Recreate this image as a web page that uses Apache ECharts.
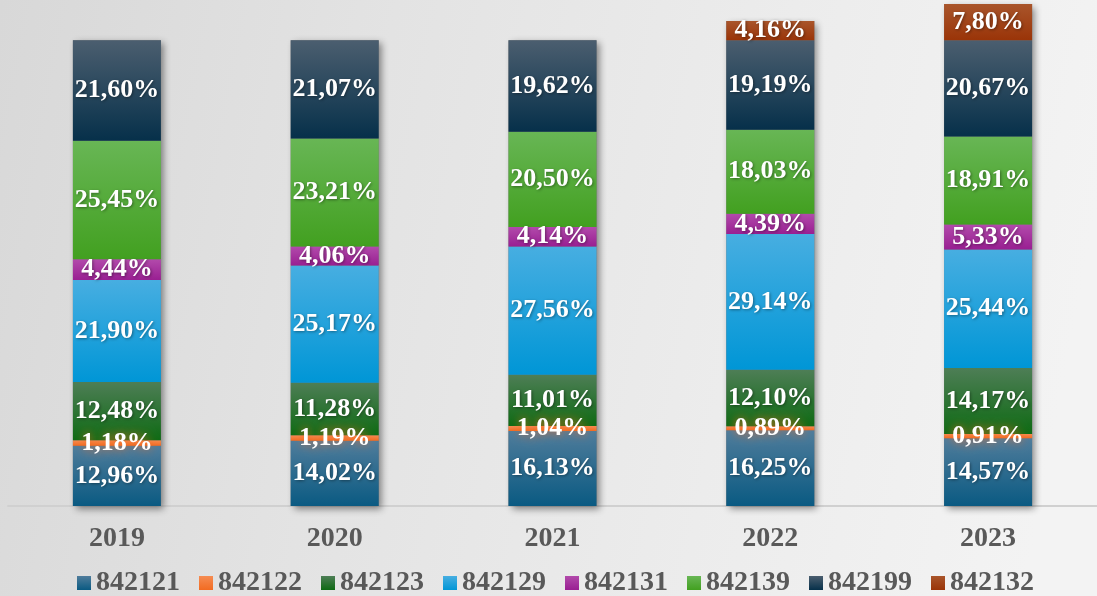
<!DOCTYPE html>
<html>
<head>
<meta charset="utf-8">
<script src="https://cdn.jsdelivr.net/npm/echarts@6/dist/echarts.min.js"></script>
<style>
  html, body { margin: 0; padding: 0; }
  #chart { width: 1097px; height: 596px; }
</style>
</head>
<body>
<div id="chart"></div>
<script>
// years on the x axis
const years = ['2019', '2020', '2021', '2022', '2023'];

// share per product code, bottom to top of each bar
const s842121 = [12.96, 14.02, 16.13, 16.25, 14.57];
const s842122 = [1.18, 1.19, 1.04, 0.89, 0.91];
const s842123 = [12.48, 11.28, 11.01, 12.10, 14.17];
const s842129 = [21.90, 25.17, 27.56, 29.14, 25.44];
const s842131 = [4.44, 4.06, 4.14, 4.39, 5.33];
const s842139 = [25.45, 23.21, 20.50, 18.03, 18.91];
const s842199 = [21.60, 21.07, 19.62, 19.19, 20.67];
const s842132 = [null, null, null, 4.16, 7.80];

const seriesList = [
  { name: '842121', data: s842121, top: '#4f7c9b', bottom: '#0a5a82' },
  { name: '842122', data: s842122, top: '#f58c52', bottom: '#f26b21', glow: true },
  { name: '842123', data: s842123, top: '#4e7e56', bottom: '#0e6a13' },
  { name: '842129', data: s842129, top: '#47aee1', bottom: '#0096d6' },
  { name: '842131', data: s842131, top: '#b24aab', bottom: '#991f92' },
  { name: '842139', data: s842139, top: '#68b655', bottom: '#42a020' },
  { name: '842199', data: s842199, top: '#4b5e6f', bottom: '#06304a' },
  { name: '842132', data: s842132, top: '#a9552b', bottom: '#9a3408' }
];

// bar totals, used only for the drop shadow behind each stack
const totals = years.map((y, i) => seriesList.reduce((a, s) => a + (s.data[i] || 0), 0));

const font = '"Liberation Serif", "DejaVu Serif", serif';

function grad(top, bottom) {
  return new echarts.graphic.LinearGradient(0, 0, 0, 1, [
    { offset: 0, color: top },
    { offset: 1, color: bottom }
  ]);
}

const chart = echarts.init(document.getElementById('chart'));

const series = [{
  name: 'shadow',
  type: 'bar',
  data: totals,
  barWidth: 88,
  barGap: '-100%',
  z: 1,
  silent: true,
  itemStyle: {
    color: '#777',
    shadowColor: 'rgba(0,0,0,0.45)',
    shadowBlur: 7,
    shadowOffsetX: 3,
    shadowOffsetY: 3
  }
}].concat(seriesList.map(s => ({
  name: s.name,
  type: 'bar',
  stack: 'total',
  data: s.data,
  barWidth: 88,
  z: 2,
  itemStyle: { color: grad(s.top, s.bottom) },
  label: {
    show: true,
    position: 'inside',
    color: '#fff',
    fontFamily: font,
    fontWeight: 'bold',
    fontSize: 26,
    textBorderWidth: 0,
    textShadowColor: s.glow ? 'rgba(242,107,33,0.95)' : 'rgba(0,0,0,0.4)',
    textShadowBlur: s.glow ? 10 : 3,
    textShadowOffsetX: s.glow ? 0 : 1,
    textShadowOffsetY: s.glow ? 0 : 1,
    formatter: p => p.value == null ? '' : p.value.toFixed(2).replace('.', ',') + '%'
  }
})));

const option = {
  backgroundColor: new echarts.graphic.LinearGradient(0, 0, 1, 0.35, [
    { offset: 0, color: '#d8d8d8' },
    { offset: 0.35, color: '#e3e3e3' },
    { offset: 0.7, color: '#ececec' },
    { offset: 1, color: '#f3f3f3' }
  ]),
  animation: false,
  grid: { left: 8, width: 1091, top: 3, bottom: 90, containLabel: false },
  legend: {
    data: seriesList.map(s => s.name),
    left: 72,
    top: 564,
    itemWidth: 14,
    itemHeight: 14,
    itemGap: 19,
    icon: 'rect',
    textStyle: { fontFamily: font, fontWeight: 'bold', fontSize: 28, color: '#595959', padding: [2, 0, 0, 0] }
  },
  xAxis: {
    type: 'category',
    data: years,
    axisTick: { show: false },
    axisLine: { lineStyle: { color: '#d0d0d0', width: 2 } },
    axisLabel: { fontFamily: font, fontWeight: 'bold', fontSize: 28, color: '#595959', margin: 19 }
  },
  yAxis: {
    type: 'value',
    min: 0,
    max: 108,
    show: false,
    splitLine: { show: false }
  },
  series: series
};

chart.setOption(option);
window.addEventListener('resize', () => chart.resize());
</script>
</body>
</html>
